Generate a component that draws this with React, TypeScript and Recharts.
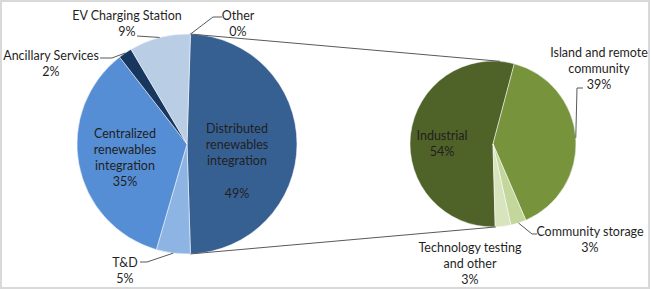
import React from 'react';
import { PieChart, Pie, Cell } from 'recharts';

// Storage deployment by application, with the distributed share broken out
const applicationNames = [
  'Distributed renewables integration',
  'T&D',
  'Centralized renewables integration',
  'Ancillary Services',
  'EV Charging Station',
  'Other',
];
const applicationShares = [49, 5, 35, 2, 9, 0];
const applicationColors = ['#376092', '#8EB4E3', '#558ED5', '#17375E', '#B9CDE5', '#C6D9F1'];

const distributedNames = [
  'Industrial',
  'Island and remote community',
  'Community storage',
  'Technology testing and other',
];
const distributedShares = [54, 39, 3, 3];
const distributedColors = ['#4F6228', '#77933C', '#C3D69B', '#D7E4BD'];

const applicationData = applicationNames.map((name, i) => ({ name, value: applicationShares[i] }));
const distributedData = distributedNames.map((name, i) => ({ name, value: distributedShares[i] }));

const WIDTH = 651;
const HEIGHT = 289;
const MAIN = { cx: 187, cy: 144, r: 110, start: 88.2 };
const SUB = { cx: 493, cy: 144, r: 83, start: -88.5 };
const FONT = 'Lato, "Open Sans", sans-serif';
const FONT_SIZE = 12.5;
const LINE_GAP = 16.3;
const TEXT_COLOR = '#1f1f1f';
const LEADER_COLOR = '#595959';

const RAD = Math.PI / 180;
const polar = (cx: number, cy: number, r: number, angle: number) => ({
  x: cx + r * Math.cos(angle * RAD),
  y: cy - r * Math.sin(angle * RAD),
});

type LabelLayout = {
  lines: string[];
  dx: number;
  dy: number;
  blankBeforeValue?: boolean;
  leader?: [number, number][];
};

// Label placement relative to each pie's centre
const mainLabels: Record<string, LabelLayout> = {
  'Distributed renewables integration': {
    lines: ['Distributed', 'renewables', 'integration'],
    dx: 50,
    dy: -16,
    blankBeforeValue: true,
  },
  'T&D': { lines: ['T&D'], dx: -62, dy: 118, leader: [[-40, 118], [-47, 118]] },
  'Centralized renewables integration': {
    lines: ['Centralized', 'renewables', 'integration'],
    dx: -62,
    dy: -11,
  },
  'Ancillary Services': {
    lines: ['Ancillary Services'],
    dx: -136,
    dy: -89,
    leader: [[-75, -86], [-87, -86]],
  },
  'EV Charging Station': {
    lines: ['EV Charging Station'],
    dx: -60,
    dy: -129,
    leader: [[-50, -108]],
  },
  Other: { lines: ['Other'], dx: 51, dy: -129, leader: [[26, -127], [35, -127]] },
};

const subLabels: Record<string, LabelLayout> = {
  Industrial: { lines: ['Industrial'], dx: -51, dy: -9 },
  'Island and remote community': {
    lines: ['Island and remote', 'community'],
    dx: 106,
    dy: -92,
    leader: [[84, -56], [90, -56]],
  },
  'Community storage': {
    lines: ['Community  storage'],
    dx: 97,
    dy: 87,
    leader: [[39, 90], [44, 90]],
  },
  'Technology testing and other': {
    lines: ['Technology testing', 'and other'],
    dx: -23,
    dy: 103,
  },
};

const textStyle = {
  fontFamily: FONT,
  fontSize: FONT_SIZE,
  fill: TEXT_COLOR,
};

const renderLabel = (layouts: Record<string, LabelLayout>, withConnectors: boolean) => (props: any) => {
  const { cx, cy, outerRadius, midAngle, startAngle, endAngle, name, value } = props;
  const layout = layouts[name];
  if (!layout) return null;
  const rows = [...layout.lines];
  if (layout.blankBeforeValue) rows.push('');
  rows.push(`${value}%`);
  const tx = cx + layout.dx;
  const ty = cy + layout.dy;

  let leader: React.ReactNode = null;
  if (layout.leader) {
    const anchor = polar(cx, cy, outerRadius, midAngle);
    const pts = [[anchor.x, anchor.y], ...layout.leader.map(([x, y]) => [cx + x, cy + y])];
    leader = (
      <polyline
        points={pts.map((p) => p.join(',')).join(' ')}
        fill="none"
        stroke={LEADER_COLOR}
        strokeWidth={1}
      />
    );
  }

  let connectors: React.ReactNode = null;
  if (withConnectors && name === applicationNames[0]) {
    const a = polar(cx, cy, outerRadius, startAngle);
    const b = polar(cx, cy, outerRadius, endAngle);
    const ta = polar(SUB.cx, SUB.cy, SUB.r, 85);
    const tb = polar(SUB.cx, SUB.cy, SUB.r, -88);
    connectors = (
      <g stroke={LEADER_COLOR} strokeWidth={1}>
        <line x1={a.x} y1={a.y} x2={ta.x} y2={ta.y} />
        <line x1={b.x} y1={b.y} x2={tb.x} y2={tb.y} />
      </g>
    );
  }

  return (
    <g key={`label-${name}`}>
      {connectors}
      {leader}
      {rows.map((row, i) => (
        <text
          key={i}
          x={tx}
          y={ty + i * LINE_GAP}
          textAnchor="middle"
          dominantBaseline="central"
          style={textStyle}
        >
          {row}
        </text>
      ))}
    </g>
  );
};

export default function App() {
  return (
    <div style={{ position: 'absolute', left: 0, top: 0, width: WIDTH, height: HEIGHT, background: '#fff' }}>
      <PieChart width={WIDTH} height={HEIGHT} margin={{ top: 0, right: 0, bottom: 0, left: 0 }}>
        <Pie
          data={applicationData}
          dataKey="value"
          nameKey="name"
          cx={MAIN.cx}
          cy={MAIN.cy}
          outerRadius={MAIN.r}
          startAngle={MAIN.start}
          endAngle={MAIN.start - 360}
          stroke="#ffffff"
          strokeWidth={0.5}
          label={renderLabel(mainLabels, true)}
          labelLine={false}
          isAnimationActive={false}
        >
          {applicationData.map((d, i) => (
            <Cell key={d.name} fill={applicationColors[i]} />
          ))}
        </Pie>
        <Pie
          data={distributedData}
          dataKey="value"
          nameKey="name"
          cx={SUB.cx}
          cy={SUB.cy}
          outerRadius={SUB.r}
          startAngle={SUB.start}
          endAngle={SUB.start - 360}
          stroke="#ffffff"
          strokeWidth={0.5}
          label={renderLabel(subLabels, false)}
          labelLine={false}
          isAnimationActive={false}
        >
          {distributedData.map((d, i) => (
            <Cell key={d.name} fill={distributedColors[i]} />
          ))}
        </Pie>
      </PieChart>
      <div
        style={{
          position: 'absolute',
          left: 0,
          top: 0,
          width: WIDTH - 1,
          height: HEIGHT,
          boxSizing: 'border-box',
          border: '2px solid #d9d9d9',
          pointerEvents: 'none',
        }}
      />
    </div>
  );
}
